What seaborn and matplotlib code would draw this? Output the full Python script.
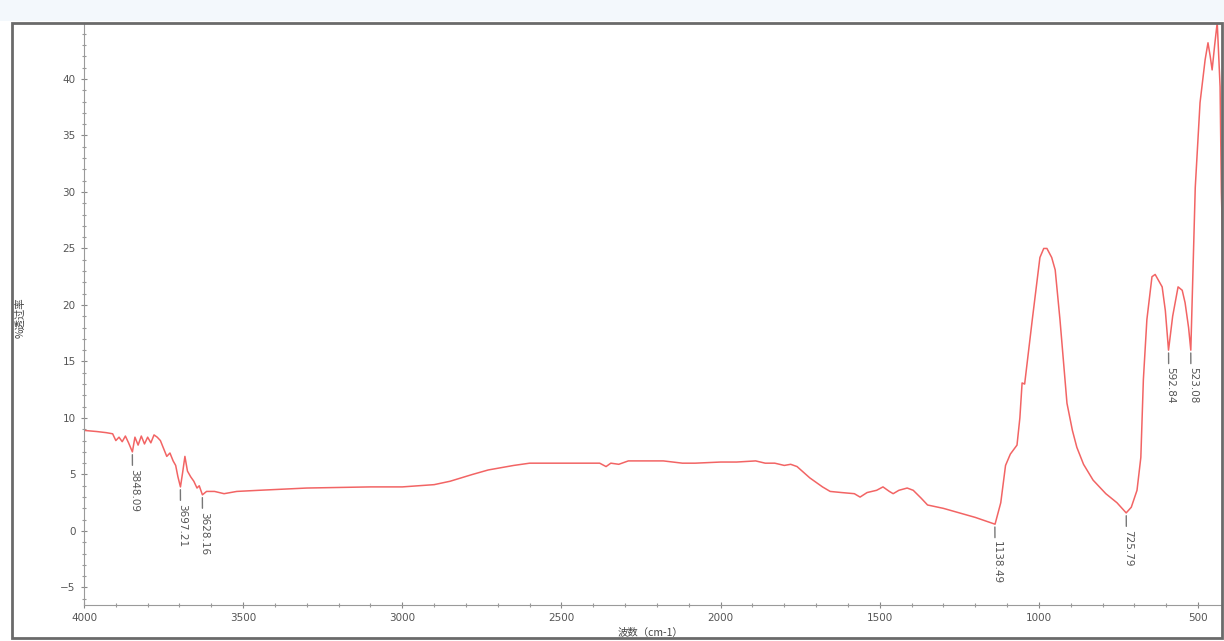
import numpy as np
import pandas as pd
import seaborn as sns
import matplotlib.pyplot as plt
from matplotlib.patches import Rectangle
from matplotlib.ticker import MultipleLocator

# FTIR spectrum
wavenumber = [4000, 3960, 3930, 3910, 3900, 3890, 3880, 3870, 3860, 3848, 3840, 3830,
              3820, 3810, 3800, 3790, 3780, 3770, 3760, 3750, 3740, 3730, 3720, 3712,
              3705, 3697, 3690, 3683, 3675, 3665, 3655, 3645, 3638, 3628, 3615, 3590,
              3560, 3520, 3450, 3300, 3100, 3000, 2900, 2850, 2780, 2730, 2650, 2600,
              2450, 2380, 2360, 2345, 2320, 2290, 2180, 2120, 2080, 2000, 1950, 1890,
              1860, 1830, 1800, 1780, 1760, 1740, 1720, 1700, 1680, 1656, 1620, 1580,
              1562, 1540, 1510, 1490, 1470, 1458, 1440, 1414, 1395, 1370, 1350, 1300,
              1200, 1138, 1120, 1105, 1090, 1069, 1060, 1053, 1045, 1021, 997, 985,
              975, 960, 949, 934, 920, 912, 895, 881, 860, 830, 790, 755,
              726, 710, 692, 680, 672, 661, 645, 635, 625, 613, 603, 593,
              580, 563, 550, 541, 530, 523, 509, 494, 478, 469, 462, 456,
              448, 440, 431, 427, 418]
transmittance = [8.9, 8.8, 8.7, 8.6, 8.0, 8.3, 7.9, 8.4, 7.8, 7.0, 8.3, 7.6,
                 8.4, 7.7, 8.3, 7.8, 8.5, 8.3, 8.0, 7.3, 6.6, 6.9, 6.2, 5.8,
                 4.8, 3.9, 5.2, 6.6, 5.3, 4.8, 4.4, 3.8, 4.0, 3.2, 3.5, 3.5,
                 3.3, 3.5, 3.6, 3.8, 3.9, 3.9, 4.1, 4.4, 5.0, 5.4, 5.8, 6.0,
                 6.0, 6.0, 5.7, 6.0, 5.9, 6.2, 6.2, 6.0, 6.0, 6.1, 6.1, 6.2,
                 6.0, 6.0, 5.8, 5.9, 5.7, 5.2, 4.7, 4.3, 3.9, 3.5, 3.4, 3.3,
                 3.0, 3.4, 3.6, 3.9, 3.5, 3.3, 3.6, 3.8, 3.6, 2.9, 2.3, 2.0,
                 1.2, 0.6, 2.5, 5.8, 6.8, 7.6, 10.0, 13.1, 13.0, 18.7, 24.2, 25.0,
                 25.0, 24.2, 23.1, 18.7, 14.0, 11.3, 8.9, 7.4, 5.9, 4.5, 3.3, 2.5,
                 1.6, 2.1, 3.6, 6.5, 13.4, 18.7, 22.5, 22.7, 22.2, 21.6, 19.5, 16.0,
                 19.0, 21.6, 21.3, 20.2, 18.0, 16.0, 30.4, 37.9, 41.7, 43.2, 42.0, 40.8,
                 43.0, 45.0, 39.3, 30.0, 20.0]

peak_labels = ['3848.09', '3697.21', '3628.16', '1138.49', '725.79', '592.84', '523.08']
peak_wn = [3848.09, 3697.21, 3628.16, 1138.49, 725.79, 592.84, 523.08]
peak_val = [7.0, 3.9, 3.2, 0.6, 1.6, 16.0, 16.0]

df = pd.DataFrame({'wn': wavenumber, 't': transmittance})

sns.set_style('white')
plt.rcParams['font.family'] = ['Noto Sans CJK SC', 'DejaVu Sans']

fig = plt.figure(figsize=(12.24, 6.41), dpi=100)
W, H = 1224, 641

# light strip on top and the outer frame
fig.patches.append(Rectangle((0, (H - 21) / H), 1, 21 / H, transform=fig.transFigure,
                             facecolor='#f3f8fc', edgecolor='none', zorder=0))
fig.patches.append(Rectangle((12 / W, 3 / H), (1222 - 12) / W, (638 - 23) / H,
                             transform=fig.transFigure, facecolor='none',
                             edgecolor='#6a6a6a', lw=2, zorder=5))

ax = fig.add_axes([84 / W, (H - 605) / H, (1222 - 84) / W, (605 - 23) / H])
sns.lineplot(data=df, x='wn', y='t', ax=ax, color='#f26464', lw=1.1, sort=False)

ax.set_xlim(4000, 425)
ax.set_ylim(-6.55, 44.95)
ax.xaxis.set_major_locator(MultipleLocator(500))
ax.xaxis.set_minor_locator(MultipleLocator(100))
ax.yaxis.set_major_locator(MultipleLocator(5))
ax.yaxis.set_minor_locator(MultipleLocator(1))
ax.tick_params(which='major', direction='inout', length=4, width=0.8, color='#888888',
               labelsize=7.5, labelcolor='#555555', pad=4)
ax.tick_params(which='minor', direction='inout', length=2.5, width=0.8, color='#999999')
ax.tick_params(axis='x', which='both', bottom=True)
ax.tick_params(axis='y', which='both', left=True)
for s in ['top', 'right']:
    ax.spines[s].set_visible(False)
for s in ['left', 'bottom']:
    ax.spines[s].set_color('#9a9a9a')
    ax.spines[s].set_linewidth(0.8)
for lab in ax.get_xticklabels() + ax.get_yticklabels():
    lab.set_family('DejaVu Sans')

ax.set_xlabel('')
ax.set_ylabel('')
fig.text(20 / W, 1 - 318 / H, '%透过率', rotation=90, ha='center', va='center',
         fontsize=7.5, color='#444444')
fig.text(650 / W, 1 - 633 / H, '波数（cm-1）', ha='center', va='center',
         fontsize=7.5, color='#444444')

for lbl, x, y in zip(peak_labels, peak_wn, peak_val):
    ax.annotate(lbl, xy=(x, y - 0.25), xytext=(1.5, -10), textcoords='offset points',
                rotation=-90, ha='center', va='top', fontsize=7.5, color='#555555',
                family='DejaVu Sans',
                arrowprops=dict(arrowstyle='-', color='#777777', lw=1,
                                shrinkA=0, shrinkB=0, relpos=(0.3, 1)))

fig.savefig('out.png', dpi=100)
